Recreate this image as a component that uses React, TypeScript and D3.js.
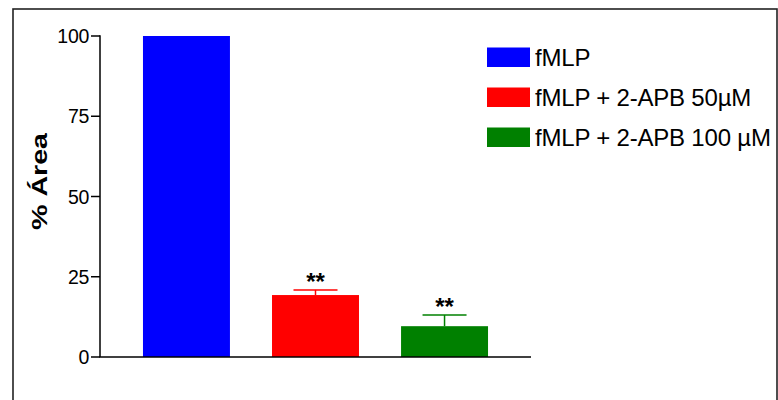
import React from "react";
import * as d3 from "d3";

const categories = ["fMLP", "fMLP + 2-APB 50µM", "fMLP + 2-APB 100 µM"];
const values = [100, 19.3, 9.6];
const errors = [0, 1.6, 3.5];
const significance = ["", "**", "**"];
const colors = ["#0000ff", "#ff0000", "#008000"];
const yTicks = [0, 25, 50, 75, 100];

const W = 778;
const H = 400;
const FONT = "'Liberation Sans', Arial, Helvetica, sans-serif";

export default function App() {
  const x = d3
    .scaleBand<string>()
    .domain(categories)
    .range([100, 531])
    .paddingInner(0.326)
    .paddingOuter(0.333);
  const y = d3.scaleLinear().domain([0, 100]).range([357, 36]);
  const bw = x.bandwidth();

  return (
    <svg
      width={W}
      height={H}
      style={{ position: "absolute", left: 0, top: 0, background: "#fff" }}
      fontFamily={FONT}
    >
      {/* outer frame */}
      <rect x={13} y={9} width={764} height={420} fill="none" stroke="#222" strokeWidth={1.6} />

      {/* bars */}
      {categories.map((c, i) => (
        <rect
          key={c}
          x={x(c)}
          y={y(values[i])}
          width={bw}
          height={y(0) - y(values[i])}
          fill={colors[i]}
        />
      ))}

      {/* error bars */}
      {categories.map((c, i) =>
        errors[i] > 0 ? (
          <g key={"e" + c} stroke={colors[i]} strokeWidth={1.5}>
            <line
              x1={x(c)! + bw / 2}
              x2={x(c)! + bw / 2}
              y1={y(values[i])}
              y2={y(values[i] + errors[i])}
            />
            <line
              x1={x(c)! + bw / 2 - 22}
              x2={x(c)! + bw / 2 + 22}
              y1={y(values[i] + errors[i])}
              y2={y(values[i] + errors[i])}
            />
          </g>
        ) : null
      )}

      {/* significance marks */}
      {categories.map((c, i) =>
        significance[i] ? (
          <text
            key={"s" + c}
            x={x(c)! + bw / 2}
            y={y(values[i] + errors[i]) + 0.5}
            textAnchor="middle"
            fontWeight="bold"
            fontSize={24}
            fill="#000"
          >
            {significance[i]}
          </text>
        ) : null
      )}

      {/* axes */}
      <line x1={100} x2={100} y1={y(100) - 0.75} y2={y(0)} stroke="#000" strokeWidth={1.5} />
      <line x1={99.25} x2={531} y1={y(0)} y2={y(0)} stroke="#000" strokeWidth={1.5} />
      {yTicks.map((t) => (
        <g key={t}>
          <line x1={91} x2={100} y1={y(t)} y2={y(t)} stroke="#000" strokeWidth={1.5} />
          <text
            x={89}
            y={y(t)}
            dy="0.36em"
            textAnchor="end"
            fontSize={19.5}
            letterSpacing={-0.3}
            fill="#000"
          >
            {t}
          </text>
        </g>
      ))}

      {/* y-axis title */}
      <text
        transform={`translate(47,${181.5}) rotate(-90)`}
        textAnchor="middle"
        fontWeight="bold"
        fontSize={22}
        textLength={97}
        lengthAdjust="spacingAndGlyphs"
        fill="#000"
      >
        % Área
      </text>

      {/* legend */}
      {categories.map((c, i) => (
        <g key={"l" + c}>
          <rect x={487} y={47.5 + i * 40} width={43} height={19.5} fill={colors[i]} />
          <text x={535} y={66 + i * 40} fontSize={24} letterSpacing={-0.2} fill="#000">
            {c}
          </text>
        </g>
      ))}
    </svg>
  );
}
